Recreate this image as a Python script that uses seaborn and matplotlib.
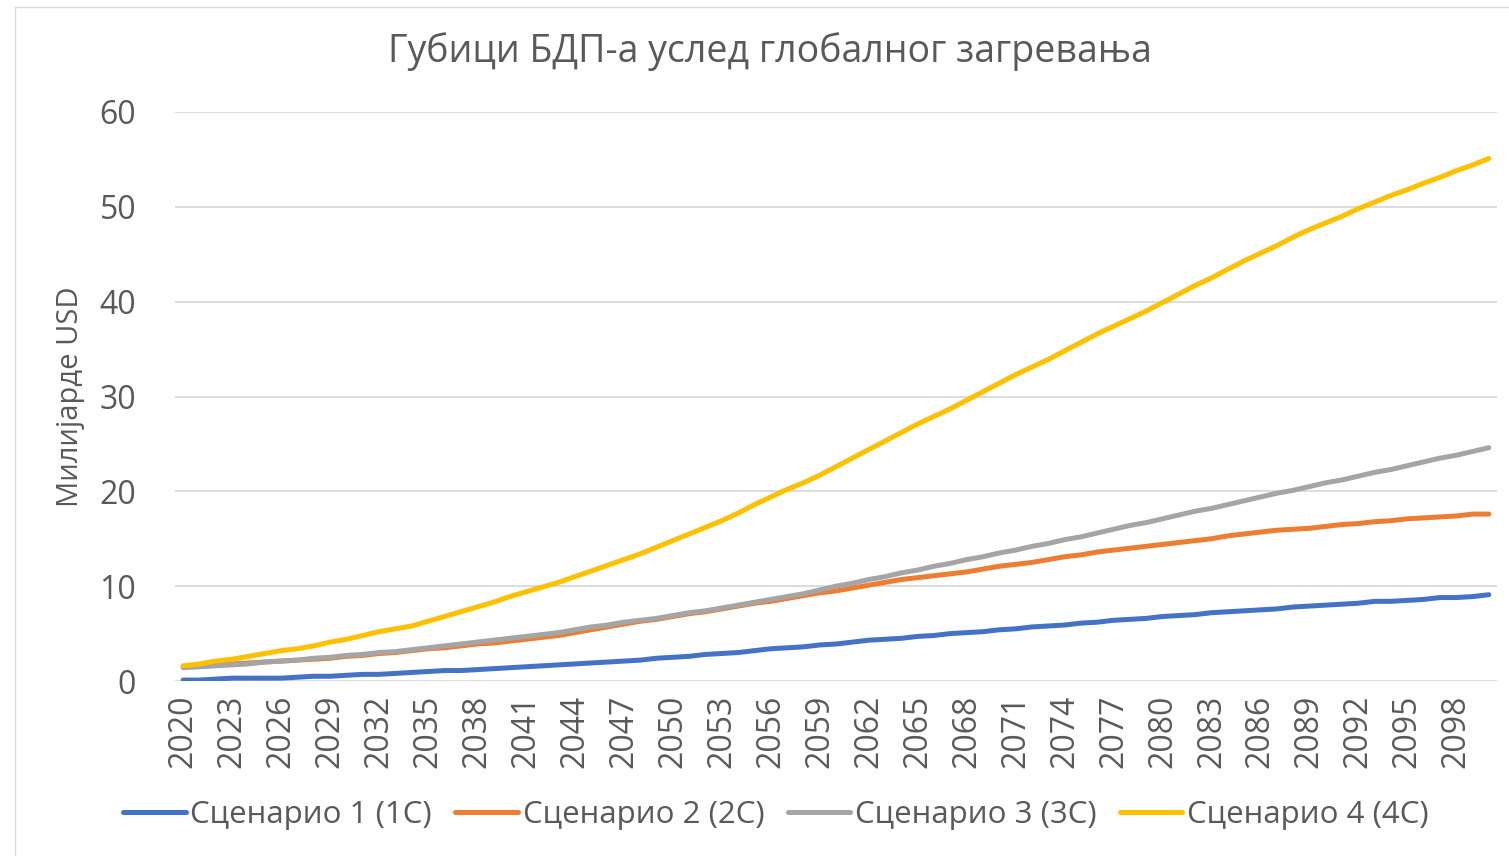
import matplotlib
matplotlib.use("Agg")
import matplotlib.pyplot as plt
import seaborn as sns
import pandas as pd
from matplotlib.patches import Rectangle

years = list(range(2020, 2101))

s1 = [0.1, 0.1, 0.2, 0.3, 0.3, 0.3, 0.3, 0.4, 0.5, 0.5,
      0.6, 0.7, 0.7, 0.8, 0.9, 1.0, 1.1, 1.1, 1.2, 1.3,
      1.4, 1.5, 1.6, 1.7, 1.8, 1.9, 2.0, 2.1, 2.2, 2.4,
      2.5, 2.6, 2.8, 2.9, 3.0, 3.2, 3.4, 3.5, 3.6, 3.8,
      3.9, 4.1, 4.3, 4.4, 4.5, 4.7, 4.8, 5.0, 5.1, 5.2,
      5.4, 5.5, 5.7, 5.8, 5.9, 6.1, 6.2, 6.4, 6.5, 6.6,
      6.8, 6.9, 7.0, 7.2, 7.3, 7.4, 7.5, 7.6, 7.8, 7.9,
      8.0, 8.1, 8.2, 8.4, 8.4, 8.5, 8.6, 8.8, 8.8, 8.9, 9.1]

s2 = [1.5, 1.6, 1.7, 1.8, 1.9, 2.0, 2.1, 2.2, 2.3, 2.4,
      2.6, 2.7, 2.9, 3.0, 3.2, 3.4, 3.5, 3.7, 3.9, 4.0,
      4.2, 4.4, 4.6, 4.8, 5.1, 5.4, 5.7, 6.0, 6.3, 6.5,
      6.8, 7.1, 7.3, 7.6, 7.9, 8.2, 8.4, 8.7, 9.0, 9.3,
      9.5, 9.8, 10.1, 10.4, 10.7, 10.9, 11.1, 11.3, 11.5, 11.8,
      12.1, 12.3, 12.5, 12.8, 13.1, 13.3, 13.6, 13.8, 14.0, 14.2,
      14.4, 14.6, 14.8, 15.0, 15.3, 15.5, 15.7, 15.9, 16.0, 16.1,
      16.3, 16.5, 16.6, 16.8, 16.9, 17.1, 17.2, 17.3, 17.4, 17.6, 17.6]

s3 = [1.4, 1.5, 1.6, 1.7, 1.8, 2.0, 2.1, 2.2, 2.4, 2.5,
      2.7, 2.8, 3.0, 3.1, 3.3, 3.5, 3.7, 3.9, 4.1, 4.3,
      4.5, 4.7, 4.9, 5.1, 5.4, 5.7, 5.9, 6.2, 6.4, 6.6,
      6.9, 7.2, 7.4, 7.7, 8.0, 8.3, 8.6, 8.9, 9.2, 9.6,
      10.0, 10.3, 10.7, 11.0, 11.4, 11.7, 12.1, 12.4, 12.8, 13.1,
      13.5, 13.8, 14.2, 14.5, 14.9, 15.2, 15.6, 16.0, 16.4, 16.7,
      17.1, 17.5, 17.9, 18.2, 18.6, 19.0, 19.4, 19.8, 20.1, 20.5,
      20.9, 21.2, 21.6, 22.0, 22.3, 22.7, 23.1, 23.5, 23.8, 24.2, 24.6]

s4 = [1.6, 1.8, 2.1, 2.3, 2.6, 2.9, 3.2, 3.4, 3.7, 4.1,
      4.4, 4.8, 5.2, 5.5, 5.8, 6.3, 6.8, 7.3, 7.8, 8.3,
      8.9, 9.4, 9.9, 10.4, 11.0, 11.6, 12.2, 12.8, 13.4, 14.1,
      14.8, 15.5, 16.2, 16.9, 17.7, 18.6, 19.4, 20.2, 20.9, 21.7,
      22.6, 23.5, 24.4, 25.3, 26.2, 27.1, 27.9, 28.7, 29.6, 30.5,
      31.4, 32.3, 33.1, 33.9, 34.8, 35.7, 36.6, 37.4, 38.2, 39.0,
      39.9, 40.8, 41.7, 42.5, 43.4, 44.3, 45.1, 45.9, 46.8, 47.6,
      48.3, 49.0, 49.8, 50.5, 51.2, 51.8, 52.5, 53.1, 53.8, 54.4, 55.1]

series_names = ["Сценарио 1 (1C)", "Сценарио 2 (2C)", "Сценарио 3 (3C)", "Сценарио 4 (4C)"]
colors = ["#4472C4", "#ED7D31", "#A5A5A5", "#FFC000"]
title = "Губици БДП-а услед глобалног загревања"
ylabel = "Милијарде USD"
yticks = [0, 10, 20, 30, 40, 50, 60]

frames = []
for name, vals in zip(series_names, [s1, s2, s3, s4]):
    frames.append(pd.DataFrame({"year": years, "value": vals, "scenario": name}))
df = pd.concat(frames, ignore_index=True)

sns.set_theme(style="white")
plt.rcParams["font.family"] = ["Open Sans", "DejaVu Sans"]

fig = plt.figure(figsize=(15.09, 8.56), dpi=100)
ax = fig.add_axes([175 / 1509, 1 - 681 / 856, (1497 - 175) / 1509, (681 - 112) / 856])

sns.lineplot(data=df, x="year", y="value", hue="scenario", palette=colors,
             hue_order=series_names, linewidth=3.6, ax=ax, legend=True)

ax.set_xlim(2019.5, 2100.5)
ax.set_ylim(0, 60)
ax.set_yticks(yticks)
ax.set_xticks(list(range(2020, 2099, 3)))
ax.tick_params(axis="x", labelrotation=90, labelsize=23, colors="#595959", length=0, pad=10)
ax.tick_params(axis="y", labelsize=23, colors="#595959", length=0, pad=28)
ax.grid(axis="y", color="#D9D9D9", linewidth=1.3)
ax.set_axisbelow(True)
for sp in ax.spines.values():
    sp.set_visible(False)
ax.set_xlabel("")
ax.set_ylabel(ylabel, fontsize=21, color="#595959", labelpad=10)

fig.text(770 / 1509, 1 - 52 / 856, title, ha="center", va="center", fontsize=27, color="#595959")

handles, labels = ax.get_legend_handles_labels()
ax.legend(handles, labels, loc="center", bbox_to_anchor=(776 / 1509, 1 - 815 / 856),
          bbox_transform=fig.transFigure, ncol=4, frameon=False, fontsize=22.5,
          handlelength=2.0, handletextpad=0.15, columnspacing=0.75, labelcolor="#595959")

fig.patches.append(Rectangle((15 / 1509, -0.05), 1.1, 1 - 7 / 856 + 0.05, transform=fig.transFigure,
                             fill=False, edgecolor="#D9D9D9", linewidth=1.0))

fig.savefig("out.png", dpi=100, facecolor="white")
